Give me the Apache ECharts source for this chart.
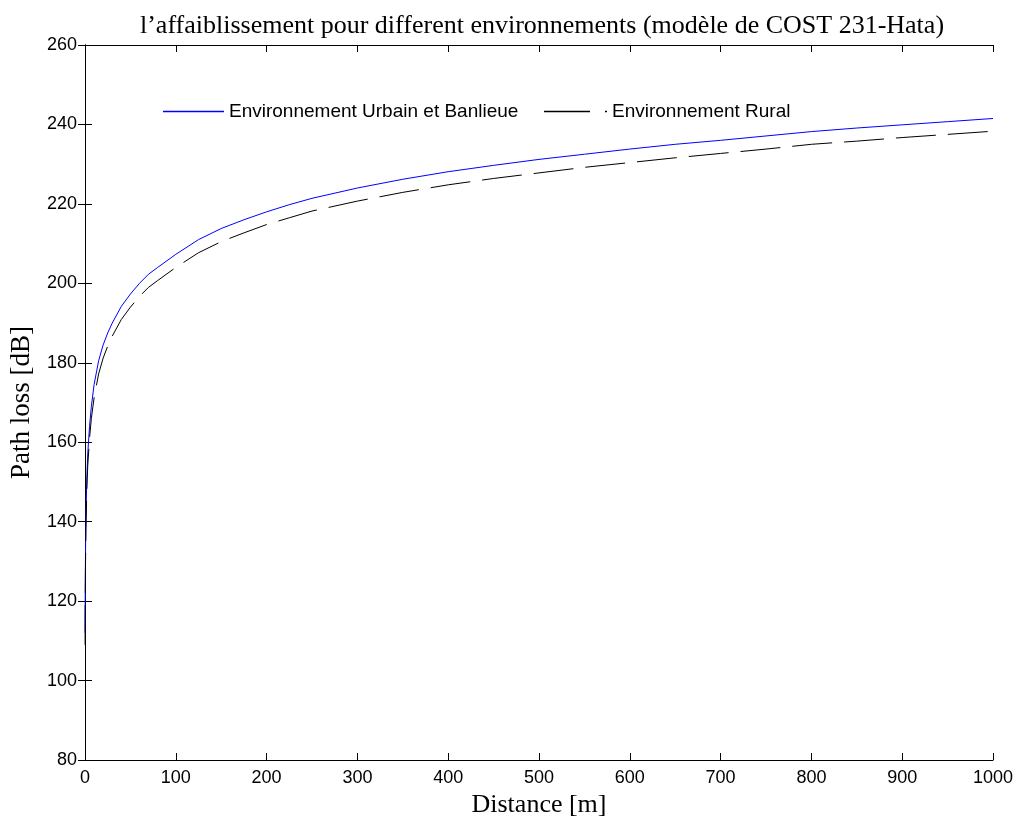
<!DOCTYPE html>
<html>
<head>
<meta charset="utf-8">
<title>COST 231-Hata</title>
<script src="https://cdn.jsdelivr.net/npm/echarts@6/dist/echarts.min.js"></script>
<style>
  html, body { margin: 0; padding: 0; background: #fff; }
  #chart { width: 1017px; height: 823px; }
</style>
</head>
<body>
<div id="chart"></div>
<script>
// distance in m
const distances = [0.1, 0.2, 0.5, 1, 2, 3, 5, 7, 10, 15, 20, 25, 30, 40, 50, 60, 70, 80, 100, 125, 150, 175, 200, 225, 250, 300, 350, 400, 450, 500, 550, 600, 650, 700, 750, 800, 850, 900, 950, 1000];
// path loss [dB]
const urbainBanlieue = [112, 120, 131, 141, 151, 157, 164, 169, 174.5, 180.5, 184.5, 187.5, 190, 194.2, 197.3, 200, 202.3, 204, 207.3, 211, 213.8, 216, 218, 219.8, 221.4, 224, 226.2, 228.1, 229.7, 231.2, 232.5, 233.8, 235, 236, 237.1, 238.2, 239.1, 239.9, 240.7, 241.5];
const rural = [109, 117, 128, 138, 148, 154, 161, 166, 171.2, 177.2, 181.2, 184.2, 186.7, 190.9, 194, 196.7, 199, 200.7, 204, 207.7, 210.5, 212.7, 214.8, 216.5, 218.2, 220.7, 222.9, 224.8, 226.4, 227.8, 229.2, 230.4, 231.6, 232.7, 233.8, 235, 235.8, 236.7, 237.5, 238.3];

const xTicks = { min: 0, max: 1000, interval: 100 };
const yTicks = { min: 80, max: 260, interval: 20 };

const sans = "'Liberation Sans', Arial, sans-serif";
const serif = "'Liberation Serif', 'Times New Roman', serif";

const chart = echarts.init(document.getElementById('chart'));

const frameAxis = {
  axisLine: { show: true, lineStyle: { color: '#000', width: 1 } },
  axisTick: { show: true, inside: true, length: 7, lineStyle: { color: '#000' } },
  splitLine: { show: false }
};

const option = {
  animation: false,
  backgroundColor: '#fff',
  color: ['#0000ff', '#000000'],
  title: {
    text: 'l’affaiblissement pour different environnements (modèle de COST 231-Hata)',
    left: 537,
    textAlign: 'center',
    top: 8,
    textStyle: { fontFamily: serif, fontSize: 26, fontWeight: 'normal', color: '#000' }
  },
  legend: [
    {
      data: ['Environnement Urbain et Banlieue'],
      icon: 'rect',
      itemStyle: { color: '#0000ff', borderColor: '#0000ff', borderWidth: 0 },
      lineStyle: { color: '#0000ff' },
      left: 158,
      top: 97,
      itemWidth: 61,
      itemHeight: 1.5,
      itemGap: 0,
      textStyle: { fontFamily: sans, fontSize: 19, color: '#000' }
    },
    {
      data: ['Environnement Rural'],
      icon: 'path://M0,0h46v1h-46z M61,0h2v1h-2z',
      symbolKeepAspect: false,
      itemStyle: { color: '#000', borderWidth: 0 },
      left: 539,
      top: 97,
      itemWidth: 63,
      itemHeight: 1.5,
      itemGap: 0,
      textStyle: { fontFamily: sans, fontSize: 19, color: '#000' }
    }
  ],
  grid: { left: 85, right: 24, top: 45, bottom: 61, containLabel: false },
  xAxis: [
    Object.assign({
      type: 'value',
      position: 'bottom',
      min: xTicks.min, max: xTicks.max, interval: xTicks.interval,
      name: 'Distance [m]',
      nameLocation: 'middle',
      nameGap: 32,
      nameTextStyle: { fontFamily: serif, fontSize: 26, color: '#000' },
      axisLabel: { fontFamily: sans, fontSize: 18, color: '#000', margin: 9, formatter: (v) => String(v) }
    }, frameAxis),
    Object.assign({
      type: 'value',
      position: 'top',
      min: xTicks.min, max: xTicks.max, interval: xTicks.interval,
      axisLabel: { show: false }
    }, frameAxis)
  ],
  yAxis: [
    Object.assign({
      type: 'value',
      position: 'left',
      min: yTicks.min, max: yTicks.max, interval: yTicks.interval,
      name: 'Path loss [dB]',
      nameLocation: 'middle',
      nameGap: 50,
      nameTextStyle: { fontFamily: serif, fontSize: 27, color: '#000' },
      axisLabel: { fontFamily: sans, fontSize: 18, color: '#000', margin: 8 }
    }, frameAxis),
    Object.assign({
      type: 'value',
      position: 'right',
      min: yTicks.min, max: yTicks.max, interval: yTicks.interval,
      axisLabel: { show: false }
    }, frameAxis)
  ],
  series: [
    {
      name: 'Environnement Urbain et Banlieue',
      type: 'line',
      showSymbol: false,
      itemStyle: { color: '#0000ff' },
      lineStyle: { color: '#0000ff', width: 1 },
      data: distances.map((d, i) => [d, urbainBanlieue[i]])
    },
    {
      name: 'Environnement Rural',
      type: 'line',
      showSymbol: false,
      itemStyle: { color: '#000' },
      lineStyle: { color: '#000', width: 1, type: [40, 12] },
      data: distances.map((d, i) => [d, rural[i]])
    }
  ]
};

option && chart.setOption(option);
</script>
</body>
</html>
